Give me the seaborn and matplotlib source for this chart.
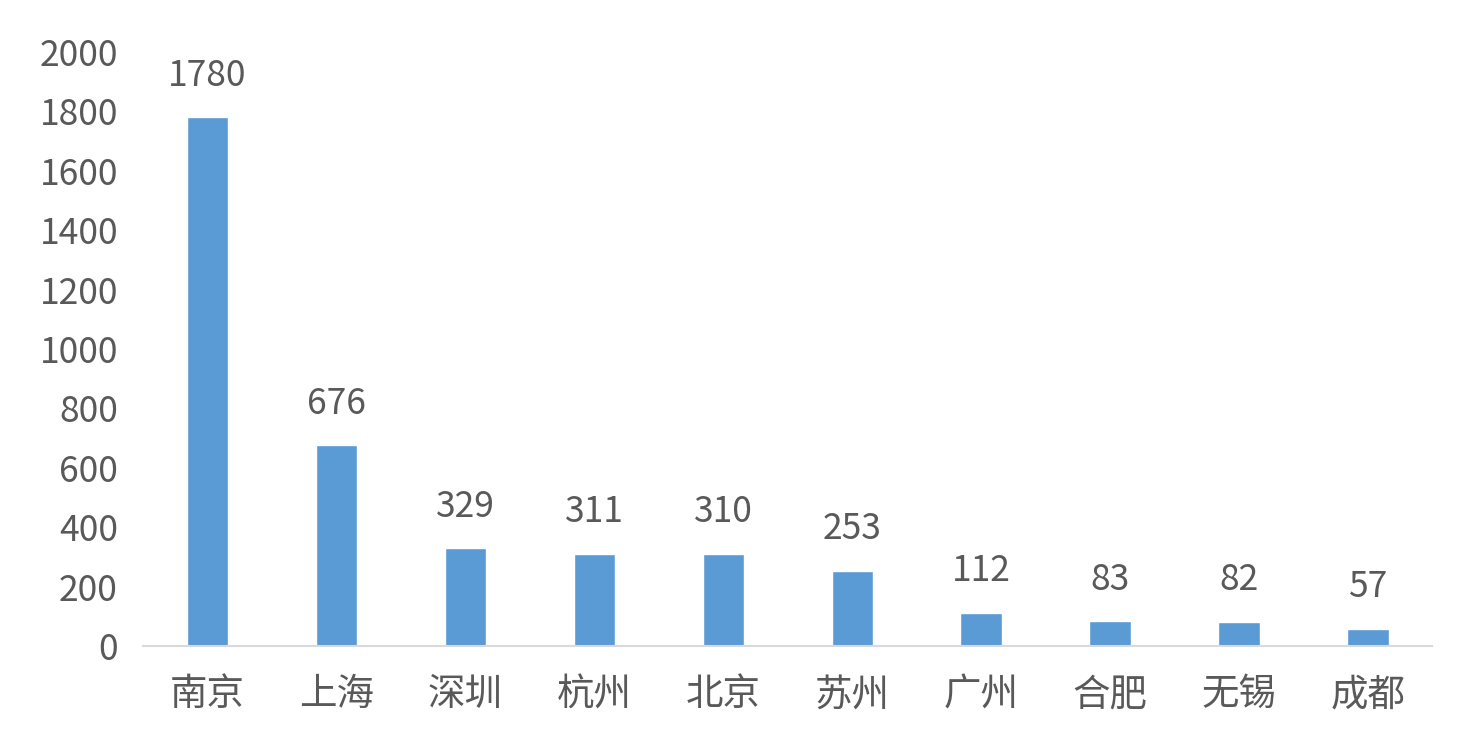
import matplotlib
matplotlib.use("Agg")
import matplotlib.pyplot as plt
import seaborn as sns
import pandas as pd

# Data
cities = ["南京", "上海", "深圳", "杭州", "北京", "苏州", "广州", "合肥", "无锡", "成都"]
counts = [1780, 676, 329, 311, 310, 253, 112, 83, 82, 57]

BAR_COLOR = "#5B9BD5"
TEXT_COLOR = "#595959"

sns.set_theme(style="white")
plt.rcParams["font.family"] = ["Noto Sans CJK SC", "DejaVu Sans"]

df = pd.DataFrame({"city": cities, "count": counts})

fig = plt.figure(figsize=(14.82, 7.52), dpi=100)
ax = fig.add_axes([0.0965, 0.141, 0.87, 0.79])

sns.barplot(data=df, x="city", y="count", color=BAR_COLOR, width=0.32,
            saturation=1, ax=ax)

for container in ax.containers:
    ax.bar_label(container, padding=17, fontsize=25.5, color=TEXT_COLOR)

ax.set_ylim(0, 2000)
ax.set_xlim(-0.5, len(cities) - 0.5)
ax.set_yticks(range(0, 2001, 200))
ax.set_xlabel("")
ax.set_ylabel("")
ax.tick_params(axis="y", labelsize=25.5, labelcolor=TEXT_COLOR, length=0, pad=18)
ax.tick_params(axis="x", labelsize=27, labelcolor=TEXT_COLOR, length=0, pad=21)

for side in ["top", "right", "left"]:
    ax.spines[side].set_visible(False)
ax.spines["bottom"].set_color("#D9D9D9")
ax.spines["bottom"].set_linewidth(1.5)
ax.grid(False)

fig.savefig("out.png", dpi=100)
